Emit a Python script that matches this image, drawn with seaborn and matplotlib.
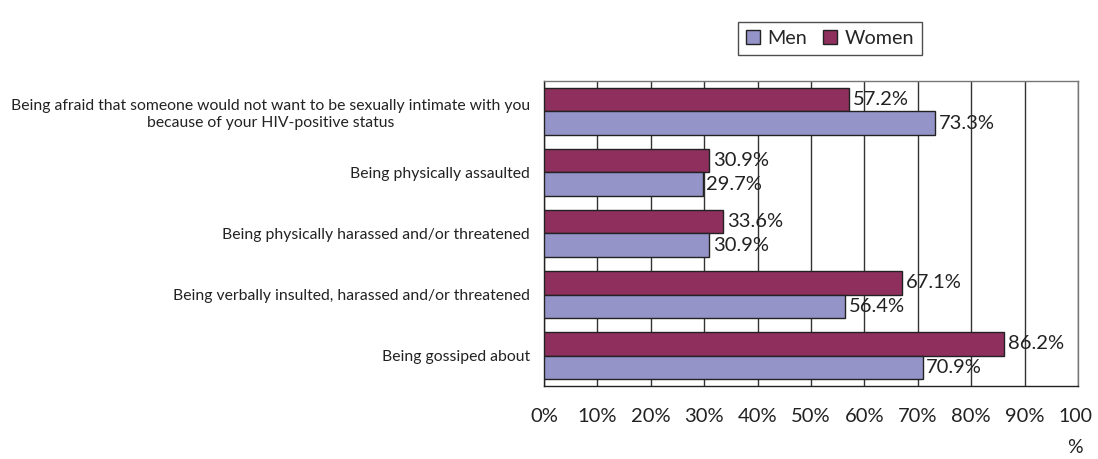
import matplotlib
matplotlib.use("Agg")
import matplotlib.pyplot as plt
import matplotlib.transforms as mtransforms
import seaborn as sns
import pandas as pd
import numpy as np
from matplotlib.patches import Patch

categories = [
    "Being afraid that someone would not want to be sexually intimate with you\nbecause of your HIV-positive status",
    "Being physically assaulted",
    "Being physically harassed and/or threatened",
    "Being verbally insulted, harassed and/or threatened",
    "Being gossiped about",
]
women = [57.2, 30.9, 33.6, 67.1, 86.2]
men = [73.3, 29.7, 30.9, 56.4, 70.9]
tick_labels = ["0%", "10%", "20%", "30%", "40%", "50%", "60%", "70%", "80%", "90%", "100\n%"]

sns.set_theme(style="white")
plt.rcParams['font.family'] = ['Lato', 'DejaVu Sans']

df = pd.DataFrame({
    "category": categories * 2,
    "value": women + men,
    "sex": ["Women"] * len(categories) + ["Men"] * len(categories),
})

c_women = "#8E2F5E"
c_men = "#9494C9"

fig = plt.figure(figsize=(10.98, 4.59), dpi=100)
ax = fig.add_axes([544 / 1098, 1 - 386 / 459, 534 / 1098, 305 / 459])

sns.barplot(data=df, y="category", x="value", hue="sex", hue_order=["Women", "Men"],
            order=categories, palette={"Women": c_women, "Men": c_men},
            orient="h", width=0.77, edgecolor="#222222", linewidth=1.0,
            saturation=1, legend=False, ax=ax, zorder=3)

ax.set_xlim(0, 100)
ax.set_ylim(len(categories) - 0.5, -0.5)
ax.set_xticks(np.arange(0, 101, 10))
ax.set_xticklabels(tick_labels, fontsize=14.5, color="#222222", va="top")
ax.tick_params(axis="x", direction="out", length=7, width=1, color="#222222", pad=9)
last = ax.get_xticklabels()[-1]
last.set_linespacing(2.0)
last.set_fontsize(14)
last.set_transform(last.get_transform() + mtransforms.ScaledTranslation(-3 / 100, 0, fig.dpi_scale_trans))
ax.xaxis.grid(True, color="#333333", linewidth=1, zorder=0)
ax.set_axisbelow(True)

ax.set_yticks(range(len(categories)))
ax.set_yticklabels(categories, fontsize=11.3, color="#222222", multialignment="center",
                   linespacing=1.25)
ax.tick_params(axis="y", length=0, pad=10)
ax.set_yticks(np.arange(-0.5, len(categories), 1), minor=True)
ax.tick_params(axis="y", which="minor", direction="out", length=5, width=1, color="#222222")
ax.set_xlabel("")
ax.set_ylabel("")

for sp in ["left", "bottom"]:
    ax.spines[sp].set_color("#222222")
    ax.spines[sp].set_linewidth(1)
for sp in ["top", "right"]:
    ax.spines[sp].set_color("#777777")
    ax.spines[sp].set_linewidth(1)

# value labels
for cont, vals in zip(ax.containers, [women, men]):
    for bar, v in zip(cont, vals):
        y = bar.get_y() + bar.get_height() / 2
        ax.text(bar.get_width() + 0.7, y, f"{v:.1f}%", va="center", ha="left",
                fontsize=14.5, color="#222222", zorder=5)

handles = [Patch(facecolor=c_men, edgecolor="#222222", label="Men"),
           Patch(facecolor=c_women, edgecolor="#222222", label="Women")]
leg = fig.legend(handles=handles, loc="center", bbox_to_anchor=(830 / 1098, 1 - 38.5 / 459),
                 ncol=2, frameon=True, fontsize=14.2, handlelength=0.7, handleheight=0.7,
                 handletextpad=0.4, columnspacing=0.8, borderpad=0.4, fancybox=False)
leg.get_frame().set_edgecolor("#222222")
leg.get_frame().set_linewidth(1)

fig.savefig("out.png", dpi=100)
